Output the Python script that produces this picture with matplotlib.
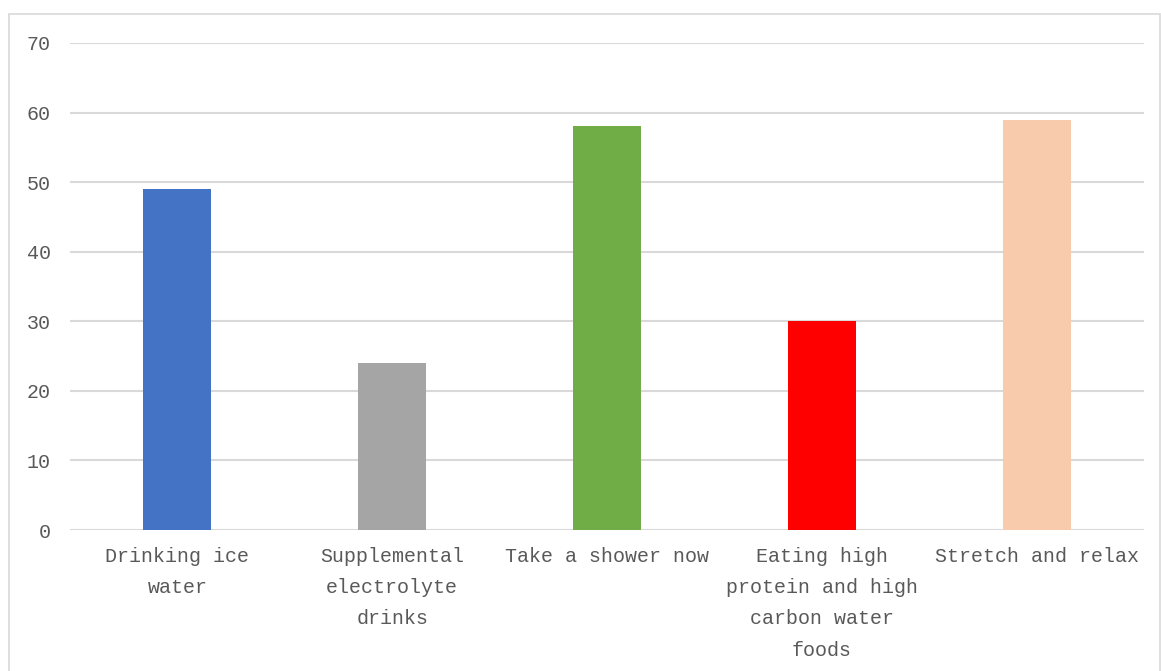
import matplotlib
matplotlib.use("Agg")
import matplotlib.pyplot as plt
from matplotlib.patches import Rectangle

categories = ["Drinking ice\nwater", "Supplemental\nelectrolyte\ndrinks", "Take a shower now",
              "Eating high\nprotein and high\ncarbon water\nfoods", "Stretch and relax"]
values = [49, 24, 58, 30, 59]
colors = ["#4472C4", "#A5A5A5", "#70AD47", "#FF0000", "#F8CBAD"]
yticks = [0, 10, 20, 30, 40, 50, 60, 70]

W, H = 1161, 671
fig = plt.figure(figsize=(W / 100, H / 100), dpi=100)
fig.patches.append(Rectangle((9 / W, -0.01), (1160 - 9) / W, 1 - 14 / H + 0.01,
                             transform=fig.transFigure, fill=False,
                             edgecolor="#d9d9d9", linewidth=1.2))
ax = fig.add_axes([70 / W, 1 - 530 / H, (1144 - 70) / W, (530 - 43) / H])

x = list(range(len(categories)))
ax.bar(x, values, width=0.317, color=colors, zorder=3)
ax.set_xlim(-0.5, len(categories) - 0.5)
ax.set_ylim(0, 70)
ax.set_yticks(yticks)
ax.set_xticks(x)
font = "Liberation Mono"
ax.set_xticklabels(categories, fontfamily=font, fontsize=14.4, color="#595959",
                   linespacing=1.82)
ax.set_yticklabels([str(v) for v in yticks], fontfamily=font, fontsize=14.4, color="#595959")
ax.tick_params(axis="both", length=0)
ax.tick_params(axis="y", pad=14)
ax.tick_params(axis="x", pad=12)
ax.grid(axis="y", color="#d9d9d9", linewidth=1.5, zorder=0)
for s in ax.spines.values():
    s.set_visible(False)

fig.savefig("out.png", dpi=100)
